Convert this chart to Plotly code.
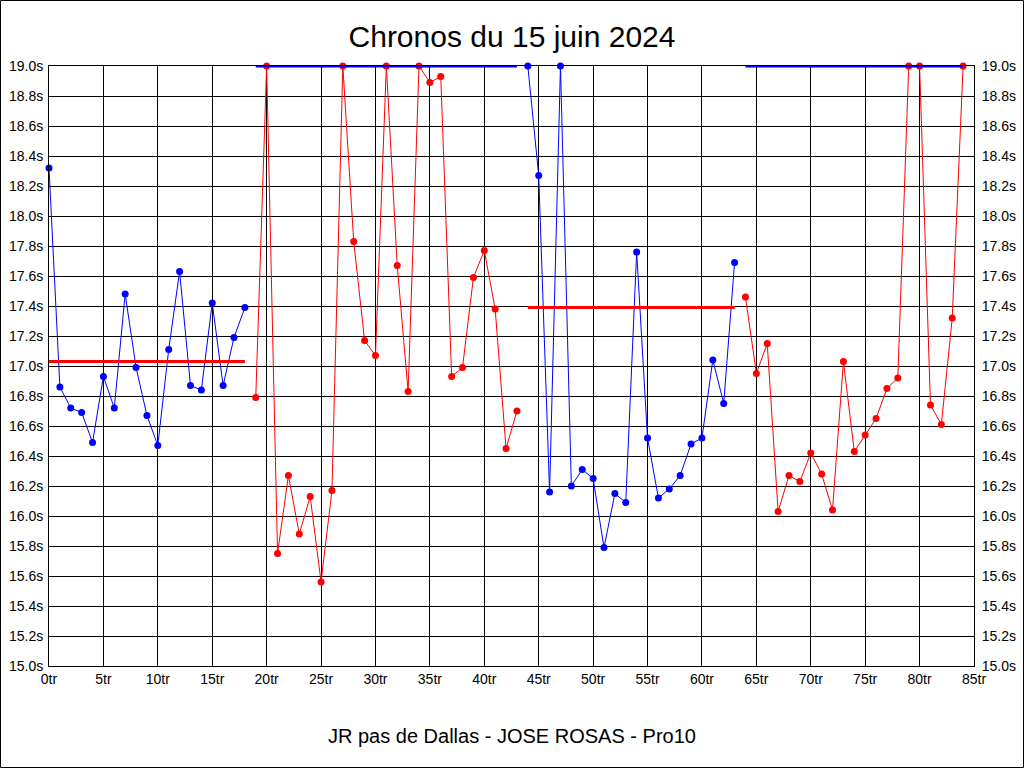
import plotly.graph_objects as go

# ---- data ----
stint1_laps = list(range(0, 19))
stint1_times = [18.32, 16.86, 16.72, 16.69, 16.49, 16.93, 16.72, 17.48, 16.99, 16.67,
                16.47, 17.11, 17.63, 16.87, 16.84, 17.42, 16.87, 17.19, 17.39]
stint2_laps = list(range(19, 44))
stint2_times = [16.79, 19.0, 15.75, 16.27, 15.88, 16.13, 15.56, 16.17, 19.0, 17.83,
                17.17, 17.07, 19.0, 17.67, 16.83, 19.0, 18.89, 18.93, 16.93, 16.99,
                17.59, 17.77, 17.38, 16.45, 16.70]
stint3_laps = list(range(44, 64))
stint3_times = [19.0, 18.27, 16.16, 19.0, 16.20, 16.31, 16.25, 15.79, 16.15, 16.09,
                17.76, 16.52, 16.12, 16.18, 16.27, 16.48, 16.52, 17.04, 16.75, 17.69]
stint4_laps = list(range(64, 85))
stint4_times = [17.46, 16.95, 17.15, 16.03, 16.27, 16.23, 16.42, 16.28, 16.04, 17.03,
                16.43, 16.54, 16.65, 16.85, 16.92, 19.0, 19.0, 16.74, 16.61, 17.32, 19.0]

stint_laps = [stint1_laps, stint2_laps, stint3_laps, stint4_laps]
stint_times = [stint1_times, stint2_times, stint3_times, stint4_times]
stint_colors = ["#0000FF", "#FF0000", "#0000FF", "#FF0000"]
avg_values = [17.03, 19.0, 17.39, 19.0]
avg_colors = ["#FF0000", "#0000FF", "#FF0000", "#0000FF"]

y_ticks = [15.0 + 0.2 * i for i in range(21)]
x_ticks = list(range(0, 90, 5))

title_text = "Chronos du 15 juin 2024"
subtitle_text = "JR pas de Dallas - JOSE ROSAS - Pro10"

FONT = "Liberation Sans, Arial, sans-serif"

fig = go.Figure()
for laps, times, col in zip(stint_laps, stint_times, stint_colors):
    fig.add_trace(go.Scatter(
        x=laps, y=times, mode="lines+markers",
        line=dict(color=col, width=1),
        marker=dict(color=col, size=7),
        cliponaxis=False, showlegend=False, hoverinfo="x+y"))

for laps, avg, col in zip(stint_laps, avg_values, avg_colors):
    fig.add_trace(go.Scatter(
        x=[laps[0], laps[-1]], y=[avg, avg], mode="lines",
        line=dict(color=col, width=3),
        cliponaxis=False, showlegend=False, hoverinfo="skip"))

# invisible trace for the right-hand axis
fig.add_trace(go.Scatter(x=[stint1_laps[0]], y=[stint1_times[0]], yaxis="y2",
                         mode="markers", marker=dict(opacity=0),
                         showlegend=False, hoverinfo="skip"))

L, R, T, B = 49, 50, 66, 102
W, H = 1024, 768
pw, ph = W - L - R, H - T - B

axis_common = dict(
    showline=True, linecolor="black", linewidth=1,
    showgrid=True, gridcolor="black", gridwidth=1,
    zeroline=False, automargin=False,
    tickfont=dict(family=FONT, size=14, color="black"),
)

fig.update_layout(
    width=W, height=H,
    margin=dict(l=L, r=R, t=T, b=B, pad=0, autoexpand=False),
    paper_bgcolor="white", plot_bgcolor="white",
    font=dict(family=FONT, color="black"),
    title=dict(text=title_text, x=0.5, xanchor="center", y=1 - 36 / H, yanchor="middle",
               font=dict(family=FONT, size=30, color="black")),
    xaxis=dict(range=[0, 85], tickmode="array", tickvals=x_ticks,
               ticktext=[f"{v}tr" for v in x_ticks], mirror=True, ticks="",
               **axis_common),
    yaxis=dict(range=[15.0, 19.0], tickmode="array", tickvals=y_ticks,
               ticktext=[f"{v:.1f}s" for v in y_ticks], mirror=True,
               ticks="", ticklabelstandoff=2, side="left",
               **axis_common),
    yaxis2=dict(range=[15.0, 19.0], tickmode="array", tickvals=y_ticks,
                ticktext=[f"{v:.1f}s" for v in y_ticks], overlaying="y", side="right",
                ticks="", ticklabelstandoff=4, automargin=False,
                showline=True, linecolor="black", showgrid=False, zeroline=False,
                tickfont=dict(family=FONT, size=14, color="black")),
    annotations=[dict(text=subtitle_text, xref="paper", yref="paper", x=(512 - L) / pw,
                      y=-(736 - 666) / ph, xanchor="center", yanchor="middle",
                      showarrow=False, font=dict(family=FONT, size=20, color="black"))],
    shapes=[dict(type="rect", xref="paper", yref="paper",
                 x0=(-L + 0.5) / pw, x1=1 + (R - 0.5) / pw,
                 y0=(-B + 0.5) / ph, y1=1 + (T - 0.5) / ph,
                 line=dict(color="black", width=1), fillcolor="rgba(0,0,0,0)")],
)

fig.write_html("out.html", config={"displayModeBar": False},
               post_script="document.body.style.margin='0';")
